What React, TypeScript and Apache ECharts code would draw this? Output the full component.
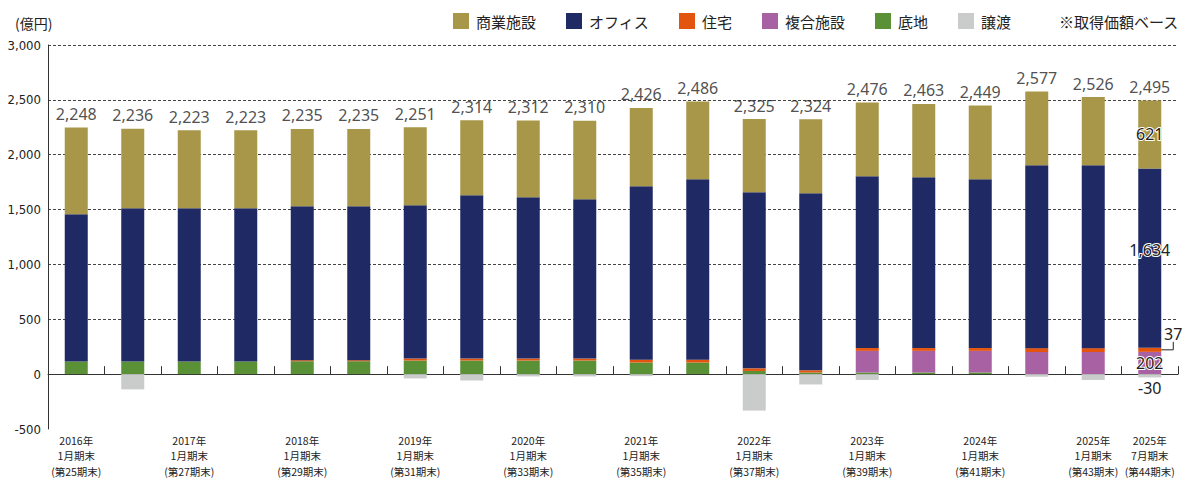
import { useEffect, useRef } from 'react';
import * as echarts from 'echarts';

const categories = [
  '2016年\n1月期末\n(第25期末)', '2016年\n7月期末\n(第26期末)',
  '2017年\n1月期末\n(第27期末)', '2017年\n7月期末\n(第28期末)',
  '2018年\n1月期末\n(第29期末)', '2018年\n7月期末\n(第30期末)',
  '2019年\n1月期末\n(第31期末)', '2019年\n7月期末\n(第32期末)',
  '2020年\n1月期末\n(第33期末)', '2020年\n7月期末\n(第34期末)',
  '2021年\n1月期末\n(第35期末)', '2021年\n7月期末\n(第36期末)',
  '2022年\n1月期末\n(第37期末)', '2022年\n7月期末\n(第38期末)',
  '2023年\n1月期末\n(第39期末)', '2023年\n7月期末\n(第40期末)',
  '2024年\n1月期末\n(第41期末)', '2024年\n7月期末\n(第42期末)',
  '2025年\n1月期末\n(第43期末)', '2025年\n7月期末\n(第44期末)',
];

const commercial = [790, 724, 711, 711, 705, 705, 712, 684, 700, 716, 714, 710, 667, 676, 673, 669, 673, 674, 623, 621];
const office = [1343, 1397, 1397, 1397, 1403, 1403, 1397, 1488, 1470, 1452, 1580, 1644, 1605, 1613, 1565, 1556, 1538, 1666, 1666, 1634];
const residential = [0, 0, 0, 0, 9, 9, 18, 18, 18, 18, 26, 26, 24, 20, 26, 26, 26, 35, 35, 37];
const mixed = [0, 0, 0, 0, 0, 0, 0, 0, 0, 0, 0, 0, 0, 0, 197, 197, 197, 202, 202, 202];
const land = [115, 115, 115, 115, 118, 118, 124, 124, 124, 124, 106, 106, 29, 15, 15, 15, 15, 0, 0, 1];
const transfer = [0, -139, 0, 0, 0, 0, -39, -58, -21, -21, -18, 0, -332, -94, -53, 0, 0, -24, -53, -30];
const totals = [2248, 2236, 2223, 2223, 2235, 2235, 2251, 2314, 2312, 2310, 2426, 2486, 2325, 2324, 2476, 2463, 2449, 2577, 2526, 2495];

const seriesNames = ['商業施設', 'オフィス', '住宅', '複合施設', '底地', '譲渡'];
const colors = {
  commercial: '#A99749',
  office: '#1F2A64',
  residential: '#E3550F',
  mixed: '#A862A4',
  land: '#5A9136',
  transfer: '#CACBCB',
};

export default function App() {
  const ref = useRef<HTMLDivElement>(null);

  useEffect(() => {
    const chart = echarts.init(ref.current!, null, { renderer: 'svg' });
    const last = categories.length - 1;
    const dark = '#222';
    const jp = "'Noto Sans CJK JP', 'Noto Sans', sans-serif";
    const num = "'Noto Sans', 'Noto Sans CJK JP', sans-serif";
    const narrow = "'Liberation Sans Narrow', 'DejaVu Sans Condensed', 'Noto Sans CJK JP', sans-serif";
    const fmt = (v: number) => v.toLocaleString('en-US');

    const halo = (extra: any) => ({
      show: true,
      color: dark,
      fontSize: 16,
      fontFamily: num,
      textBorderColor: '#fff',
      textBorderWidth: 2,
      formatter: (p: any) => fmt(p.value),
      ...extra,
    });

    const withLast = (arr: number[], label: any) =>
      arr.map((v, i) => (i === last ? { value: v, label } : v));

    const barBase = {
      type: 'bar',
      stack: 'total',
      barWidth: 23,
      emphasis: { disabled: true },
    };

    chart.setOption({
      animation: false,
      textStyle: { fontFamily: jp },
      grid: { left: 48, right: 5, top: 45, bottom: 51, containLabel: false, outerBoundsMode: 'none' },
      legend: {
        data: seriesNames,
        left: 453,
        top: 13,
        padding: 0,
        itemWidth: 16,
        itemHeight: 16,
        itemGap: 30,
        icon: 'rect',
        selectedMode: false,
        textStyle: { fontSize: 15, color: dark, fontFamily: jp, padding: [0, 0, 0, 2] },
      },
      xAxis: {
        type: 'category',
        data: categories,
        axisLine: { onZero: true, lineStyle: { color: '#333', width: 1 } },
        axisTick: { show: true, inside: true, length: 8, interval: 0, lineStyle: { color: '#333' } },
        axisLabel: {
          interval: (i: number) => i % 2 === 0 || i === last,
          showMaxLabel: true,
          showMinLabel: true,
          hideOverlap: false,
          margin: 4,
          fontSize: 10.5,
          lineHeight: 15.2,
          color: dark,
          fontFamily: jp,
        },
        splitLine: { show: false },
      },
      yAxis: {
        type: 'value',
        min: -500,
        max: 3000,
        interval: 500,
        axisLine: { show: true, lineStyle: { color: '#333', width: 1 } },
        axisTick: { show: false },
        axisLabel: {
          margin: 7,
          fontSize: 13,
          color: dark,
          fontFamily: narrow,
          formatter: (v: number) => fmt(v),
        },
        splitLine: {
          show: true,
          lineStyle: {
            type: [3, 2],
            width: 1,
            color: ['rgba(0,0,0,0)', 'rgba(0,0,0,0)', '#444', '#444', '#444', '#444', '#444', '#444'],
          },
        },
      },
      series: [
        {
          ...barBase,
          name: '底地',
          itemStyle: { color: colors.land },
          data: land,
        },
        {
          ...barBase,
          name: '複合施設',
          itemStyle: { color: colors.mixed },
          data: withLast(mixed, halo({ position: 'inside' })),
        },
        {
          ...barBase,
          name: '住宅',
          itemStyle: { color: colors.residential },
          data: withLast(residential, {
            show: true,
            position: [35, -14],
            align: 'center',
            verticalAlign: 'middle',
            color: dark,
            fontSize: 16,
            fontFamily: num,
            formatter: (p: any) => fmt(p.value),
          }),
        },
        {
          ...barBase,
          name: 'オフィス',
          itemStyle: { color: colors.office },
          data: withLast(office, halo({ position: 'inside', offset: [0, -8] })),
        },
        {
          ...barBase,
          name: '商業施設',
          itemStyle: { color: colors.commercial },
          data: withLast(commercial, halo({ position: 'inside' })),
        },
        {
          ...barBase,
          name: '譲渡',
          itemStyle: { color: colors.transfer },
          data: withLast(transfer, {
            show: true,
            position: 'bottom',
            distance: 3,
            color: dark,
            fontSize: 16,
            fontFamily: num,
            formatter: (p: any) => fmt(p.value),
          }),
        },
        {
          type: 'scatter',
          name: '合計',
          symbolSize: 1,
          itemStyle: { color: 'rgba(0,0,0,0)' },
          silent: true,
          z: 5,
          label: {
            show: true,
            position: 'top',
            distance: 5,
            color: dark,
            fontSize: 16,
            fontFamily: num,
            formatter: (p: any) => fmt(p.value),
          },
          data: totals,
        },
      ],
      graphic: {
        elements: [
          {
            id: 'unit',
            type: 'text',
            x: 15,
            y: 23,
            style: { text: '(億円)', fontSize: 14, fontFamily: jp, fill: dark, verticalAlign: 'middle' },
          },
          {
            id: 'note',
            type: 'text',
            x: 1059,
            y: 21,
            style: { text: '※取得価額ベース', fontSize: 15, fontFamily: jp, fill: dark, verticalAlign: 'middle' },
          },
        ],
      },
    });

    const yMid = land[last] + mixed[last] + residential[last] / 2;
    const pt = chart.convertToPixel({ gridIndex: 0 }, [last, yMid]) as number[];
    if (pt && isFinite(pt[0])) {
      const x0 = pt[0] + 11.5;
      const y0 = pt[1];
      chart.setOption({
        graphic: {
          elements: [
            {
              id: 'leader',
              type: 'polyline',
              shape: { points: [[x0, y0], [x0 + 12, y0], [x0 + 12, y0 - 8]] },
              style: { stroke: dark, lineWidth: 1, fill: 'none' },
              z: 10,
            },
          ],
        },
      });
    }

    return () => chart.dispose();
  }, []);

  return <div ref={ref} style={{ position: 'absolute', left: 0, top: 0, width: 1183, height: 480 }} />;
}
